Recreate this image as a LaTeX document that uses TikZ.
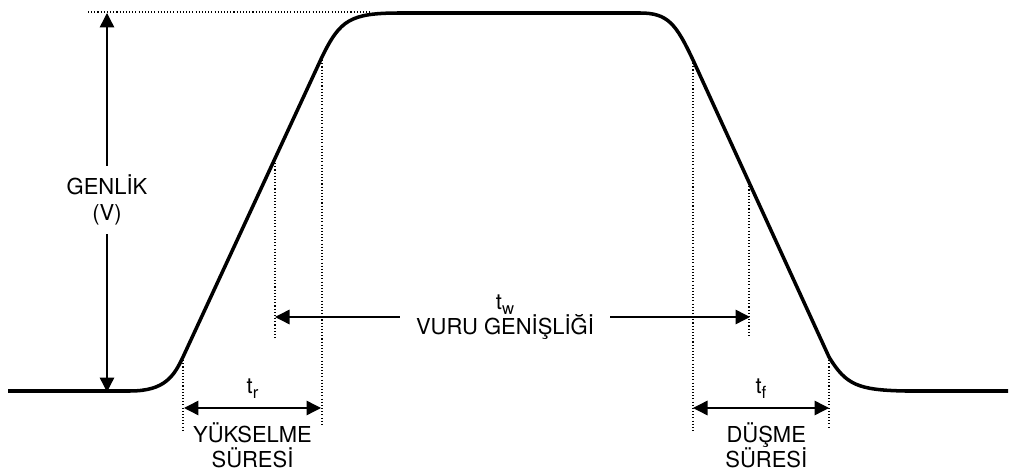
\documentclass[tikz,border=0pt]{standalone}
\usepackage{fontspec}
\setmainfont{TeX Gyre Heros}
\usetikzlibrary{arrows.meta, positioning}
\newcommand{\subt}[1]{t\raisebox{-0.45ex}{\fontsize{9.5}{10}\selectfont #1}}

\begin{document}
\begin{tikzpicture}[
  x=0.02cm, y=-0.02cm,
  font=\fontsize{12.5}{14.5}\selectfont,
  pulse/.style={line width=2pt, line join=round},
  ar/.style={-{Triangle[length=2.9mm, width=2.9mm]}, line width=0.8pt},
  dar/.style={{Triangle[length=2.9mm, width=2.9mm]}-{Triangle[length=2.9mm, width=2.9mm]}, line width=0.8pt},
  guide/.style={line width=0.6pt, dash pattern=on 0.6pt off 1.2pt},
  el/.style={align=center, inner sep=2pt}
]
\useasboundingbox (0,0) rectangle (1011,472);
% edge points of the pulse
\coordinate (r10) at (183,357);
\coordinate (r50) at (275,160);
\coordinate (r90) at (322,57);
\coordinate (f90) at (693,60);
\coordinate (f50) at (749,180);
\coordinate (f10) at (829,357);
\coordinate (top) at (370,12);
% the pulse
\draw[pulse] (8,391) -- (130,391) .. controls (165,391) and (174,376) .. (r10)
  -- (r90) .. controls (340,20) and (350,13) .. (400,13) -- (640,13)
  .. controls (668,13) and (676,24) .. (f90) -- (f10)
  .. controls (846,385) and (858,390) .. (905,391) -- (1008,391);
% guides
\draw[guide] (88,12) -- (top);
\draw[guide] (r10) -- ++(0,75);
\draw[guide] (r90) -- ++(0,370);
\draw[guide] (r50) -- ++(0,178);
\draw[guide] (f90) -- ++(0,372);
\draw[guide] (f50) -- ++(0,157);
\draw[guide] (f10) -- ++(0,71);
% amplitude
\node[el, inner ysep=5pt] (genlik) at (107,200) {GENLİK\\(V)};
\coordinate (ampTop) at (107,13);
\coordinate (ampBot) at (107,392);
\draw[ar] (genlik.north) -- (ampTop);
\draw[ar] (genlik.south) -- (ampBot);
% pulse width
\node[el, inner xsep=9pt] (tw) at (505,317) {\subt{w}\\VURU GENİŞLİĞİ};
\coordinate (twL) at (275,317);
\coordinate (twR) at (750,317);
\draw[ar] (tw.west) -- (twL);
\draw[ar] (tw.east) -- (twR);
% rise and fall times
\coordinate (trL) at (184,408);
\coordinate (trR) at (321,408);
\coordinate (tfL) at (693,408);
\coordinate (tfR) at (829,408);
\draw[dar] (trL) -- node[el, above=3pt] (tr) {\subt{r}} (trR);
\draw[dar] (tfL) -- node[el, above=3pt] (tf) {\subt{f}} (tfR);
\node[el, below=9pt of tr.south] (yuk) {YÜKSELME\\SÜRESİ};
\node[el, below=9pt of tf.south, xshift=3pt] (dus) {DÜŞME\\SÜRESİ};
\end{tikzpicture}
\end{document}
